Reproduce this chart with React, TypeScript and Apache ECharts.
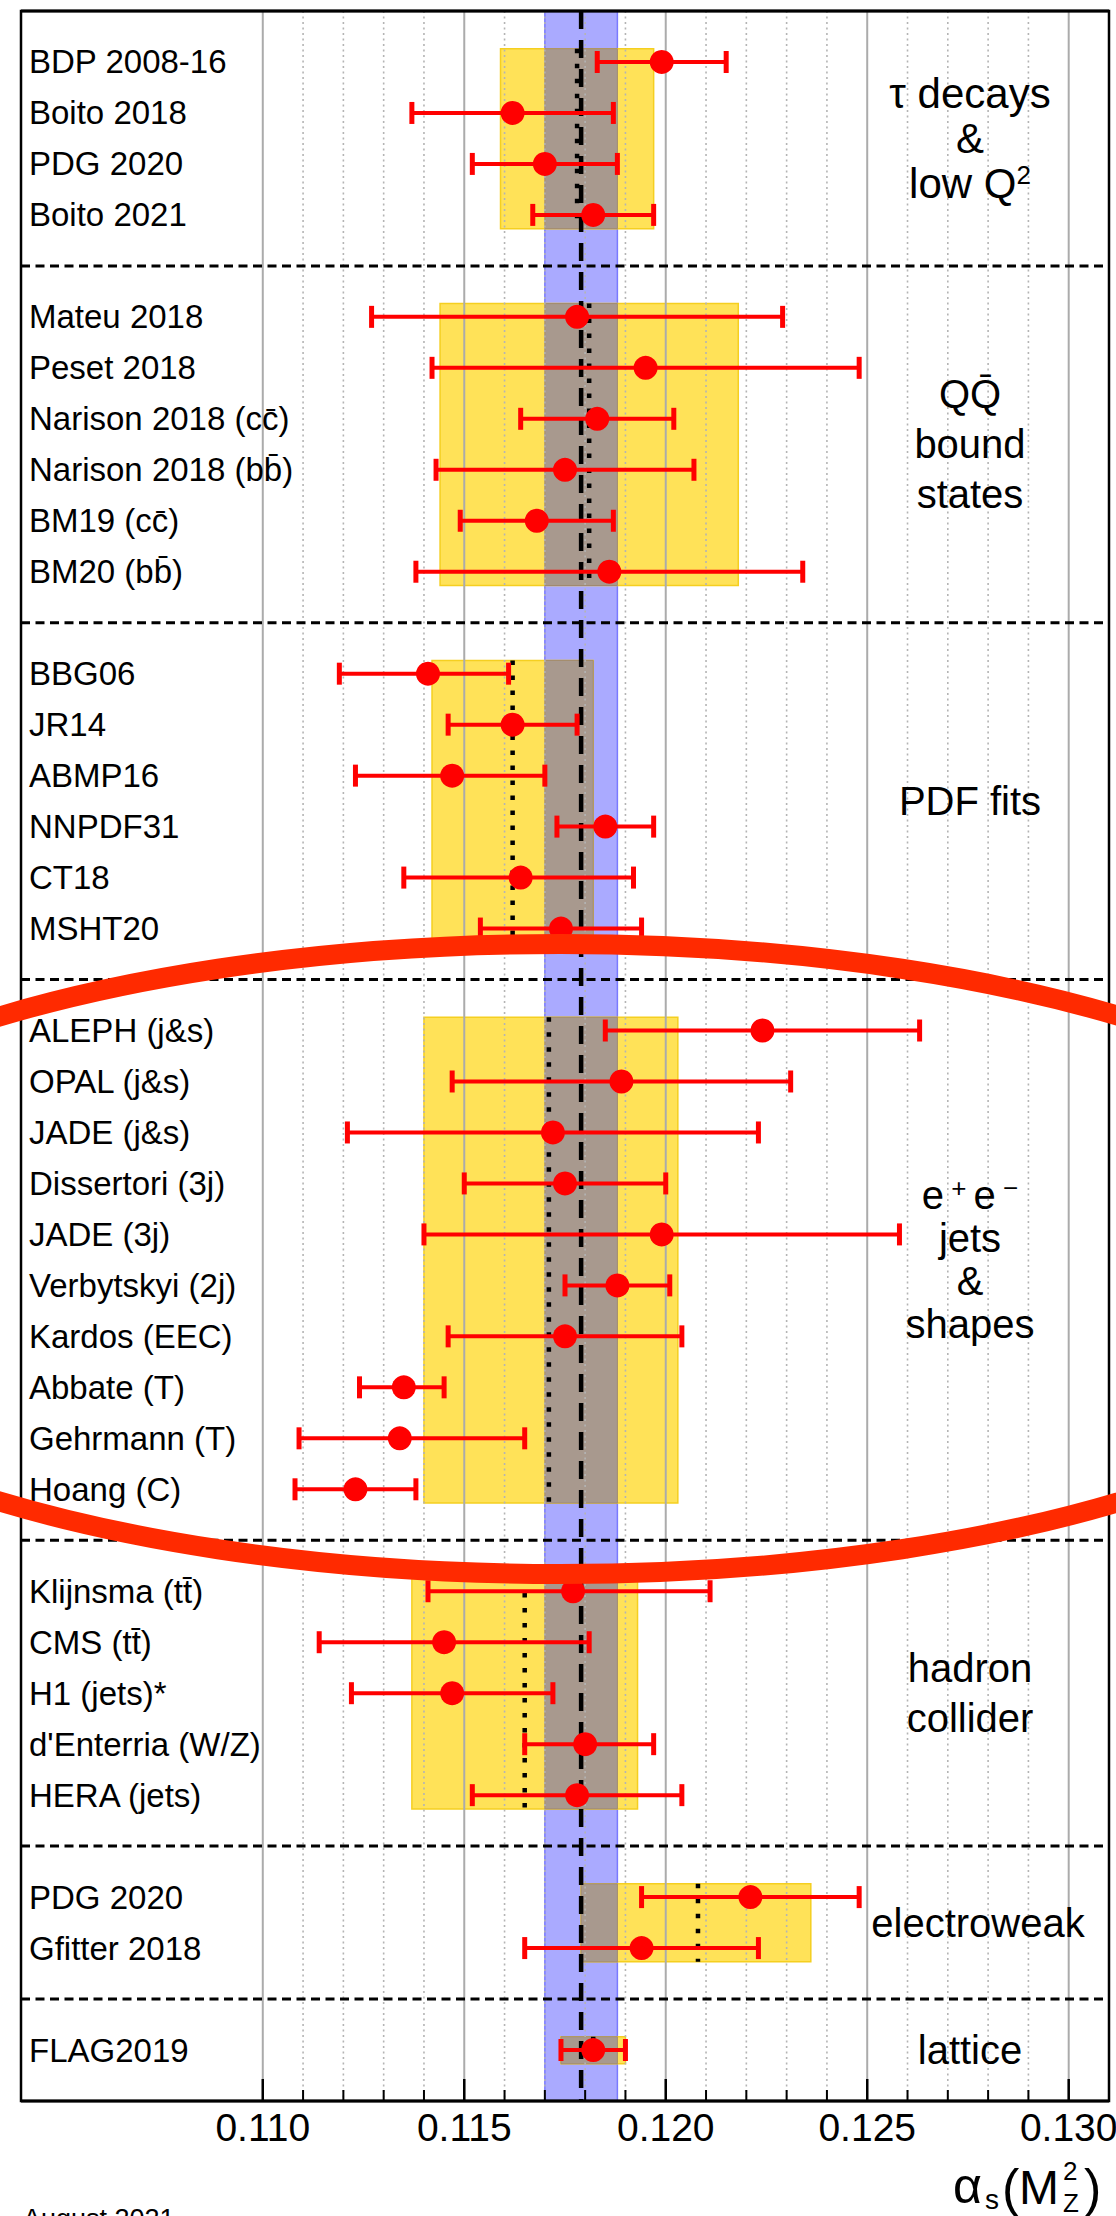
import React, { useEffect, useRef } from "react";
import * as echarts from "echarts";

// ---------------- data ----------------
const measurementLabels = [
  "BDP 2008-16", "Boito 2018", "PDG 2020", "Boito 2021",
  "Mateu 2018", "Peset 2018", "Narison 2018 (cc\u0304)", "Narison 2018 (bb\u0304)", "BM19 (cc\u0304)", "BM20 (bb\u0304)",
  "BBG06", "JR14", "ABMP16", "NNPDF31", "CT18", "MSHT20",
  "ALEPH (j&s)", "OPAL (j&s)", "JADE (j&s)", "Dissertori (3j)", "JADE (3j)", "Verbytskyi (2j)", "Kardos (EEC)", "Abbate (T)", "Gehrmann (T)", "Hoang (C)",
  "Klijnsma (tt\u0304)", "CMS (tt\u0304)", "H1 (jets)*", "d'Enterria (W/Z)", "HERA (jets)",
  "PDG 2020", "Gfitter 2018",
  "FLAG2019",
];
const centralValues = [
  0.1199, 0.1162, 0.1170, 0.1182,
  0.1178, 0.1195, 0.1183, 0.1175, 0.1168, 0.1186,
  0.1141, 0.1162, 0.1147, 0.1185, 0.1164, 0.1174,
  0.1224, 0.1189, 0.1172, 0.1175, 0.1199, 0.1188, 0.1175, 0.1135, 0.1134, 0.1123,
  0.1177, 0.1145, 0.1147, 0.1180, 0.1178,
  0.1221, 0.1194,
  0.1182,
];
const lowerValues = [
  0.1183, 0.1137, 0.1152, 0.1167,
  0.1127, 0.1142, 0.1164, 0.1143, 0.1149, 0.1138,
  0.1119, 0.1146, 0.1123, 0.1173, 0.1135, 0.1154,
  0.1185, 0.1147, 0.1121, 0.1150, 0.1140, 0.1175, 0.1146, 0.1124, 0.1109, 0.1108,
  0.1141, 0.1114, 0.1122, 0.1165, 0.1152,
  0.1194, 0.1165,
  0.1174,
];
const upperValues = [
  0.1215, 0.1187, 0.1188, 0.1197,
  0.1229, 0.1248, 0.1202, 0.1207, 0.1187, 0.1234,
  0.1161, 0.1178, 0.1170, 0.1197, 0.1192, 0.1194,
  0.1263, 0.1231, 0.1223, 0.1200, 0.1258, 0.1201, 0.1204, 0.1145, 0.1165, 0.1138,
  0.1211, 0.1181, 0.1172, 0.1197, 0.1204,
  0.1248, 0.1223,
  0.1190,
];
const groupSizes = [4, 6, 6, 10, 5, 2, 1];
const groupTitles = [
  ["\u03c4 decays", "&", "low Q{sup|2}"],
  ["QQ\u0304", "bound", "states"],
  ["PDF fits"],
  ["e{sup| + }e{sup| \u2212}", "jets", "&", "shapes"],
  ["hadron", "collider"],
  ["electroweak"],
  ["lattice"],
];
const groupAverages = [0.1178, 0.1181, 0.1162, 0.1171, 0.1165, 0.1208, 0.1182];
const groupLows = [0.1159, 0.1144, 0.1142, 0.1140, 0.1137, 0.1179, 0.1174];
const groupHighs = [0.1197, 0.1218, 0.1182, 0.1203, 0.1193, 0.1236, 0.1190];
const worldAverage = 0.1179;
const worldLow = 0.1170;
const worldHigh = 0.1188;
const majorTicks = [0.110, 0.115, 0.120, 0.125, 0.130];
const tickLabels = ["0.110", "0.115", "0.120", "0.125", "0.130"];
const xMin = 0.104;
const xMax = 0.131;

// ---------------- layout (derived) ----------------
const FONT = '"Liberation Sans", Arial, Helvetica, sans-serif';
const rowOf: number[] = [];
const groupFirst: number[] = [];
const groupLast: number[] = [];
const separators: number[] = [];
{
  let slot = 1;
  groupSizes.forEach((n, g) => {
    groupFirst.push(slot);
    for (let i = 0; i < n; i++) rowOf.push(slot++);
    groupLast.push(slot - 1);
    if (g < groupSizes.length - 1) {
      separators.push(slot);
      slot++;
    }
  });
}
const yMax = rowOf[rowOf.length - 1] + 1;
const gridTickValues: number[] = [];
for (let k = 110; k <= 130; k++) gridTickValues.push(k / 1000);
const isMajor = (v: number) => majorTicks.some((m) => Math.abs(m - v) < 1e-7);
const titleLineGaps = [45, 50, 0, 43, 50, 0, 0];
const titleShift = [0, 0, 0, 0, 0, 8, 0];
const titleFontSizes = [42, 40, 40, 40, 40, 40, 40];
const BOX_TOP = 0.26;
const BOX_BOTTOM = 0.27;

function buildOption(): any {
  const red = "#ff0000";
  return {
    animation: false,
    backgroundColor: "#ffffff",
    grid: { left: 21, right: 7, top: 11, bottom: 115, containLabel: false, outerBoundsMode: "none" },
    xAxis: {
      type: "value",
      min: xMin,
      max: xMax,
      interval: 0.001,
      axisLine: { show: false },
      axisTick: { show: false },
      splitLine: { show: false },
      axisLabel: {
        show: true,
        margin: 7,
        fontSize: 39,
        color: "#000",
        fontFamily: FONT,
        showMinLabel: true,
        showMaxLabel: true,
        formatter: (v: number) => {
          const i = majorTicks.findIndex((m) => Math.abs(m - v) < 1e-7);
          return i >= 0 ? tickLabels[i] : "";
        },
      },
    },
    yAxis: { type: "value", min: 0, max: yMax, inverse: true, show: false },
    series: [
      // world-average band
      {
        type: "custom",
        z: 1,
        silent: true,
        data: [[worldLow, worldHigh]],
        encode: { x: 0 },
        renderItem: (params: any, api: any) => {
          const a = api.coord([api.value(0), 0]);
          const b = api.coord([api.value(1), yMax]);
          return {
            type: "rect",
            shape: { x: a[0], y: a[1], width: b[0] - a[0], height: b[1] - a[1] },
            style: { fill: "#aaaaff", stroke: "#7a7aff", lineWidth: 1.5 },
          };
        },
      },
      // group boxes
      {
        type: "custom",
        z: 2,
        silent: true,
        data: groupLows.map((lo, g) => [lo, groupHighs[g], groupFirst[g], groupLast[g]]),
        encode: { x: 0, y: 2 },
        renderItem: (params: any, api: any) => {
          const lo = api.value(0), hi = api.value(1), f = api.value(2), l = api.value(3);
          const a = api.coord([lo, f - BOX_TOP]);
          const b = api.coord([hi, l + BOX_BOTTOM]);
          const children: any[] = [
            {
              type: "rect",
              shape: { x: a[0], y: a[1], width: b[0] - a[0], height: b[1] - a[1] },
              style: { fill: "#ffe258", stroke: "#f5cf20", lineWidth: 1.5 },
            },
          ];
          const ilo = Math.max(lo, worldLow), ihi = Math.min(hi, worldHigh);
          if (ihi > ilo) {
            const c = api.coord([ilo, f - BOX_TOP]);
            const d = api.coord([ihi, l + BOX_BOTTOM]);
            children.push({
              type: "rect",
              shape: { x: c[0], y: c[1], width: d[0] - c[0], height: d[1] - c[1] },
              style: { fill: "#a8998e", stroke: "#a08a70", lineWidth: 1 },
            });
          }
          return { type: "group", children };
        },
      },
      // vertical grid lines
      {
        type: "custom",
        z: 3,
        silent: true,
        data: gridTickValues.map((v) => [v, 0]),
        encode: { x: 0, y: 1 },
        renderItem: (params: any, api: any) => {
          const v = api.value(0);
          const a = api.coord([v, 0]);
          const b = api.coord([v, yMax]);
          const major = isMajor(v);
          return {
            type: "line",
            shape: { x1: a[0], y1: a[1], x2: b[0], y2: b[1] },
            style: major
              ? { stroke: "#ababab", lineWidth: 2 }
              : { stroke: "#b4b4b4", lineWidth: 1.6, lineDash: [2, 3.5] },
          };
        },
      },
      // separators
      {
        type: "custom",
        z: 4,
        silent: true,
        data: separators.map((s) => [xMin, s]),
        encode: { x: 0, y: 1 },
        renderItem: (params: any, api: any) => {
          const s = api.value(1);
          const a = api.coord([xMin, s]);
          const b = api.coord([xMax, s]);
          return {
            type: "line",
            shape: { x1: a[0], y1: a[1], x2: b[0], y2: b[1] },
            style: { stroke: "#000", lineWidth: 3, lineDash: [9, 5.5] },
          };
        },
      },
      // group averages (dotted)
      {
        type: "custom",
        z: 5,
        silent: true,
        data: groupAverages.map((v, g) => [v, groupFirst[g], groupLast[g]]),
        encode: { x: 0, y: 1 },
        renderItem: (params: any, api: any) => {
          const v = api.value(0);
          const a = api.coord([v, api.value(1) - BOX_TOP]);
          const b = api.coord([v, api.value(2) + BOX_BOTTOM]);
          return {
            type: "line",
            shape: { x1: a[0], y1: a[1], x2: b[0], y2: b[1] },
            style: { stroke: "#000", lineWidth: 4.5, lineDash: [4.5, 10.5] },
          };
        },
      },
      // world average (dashed)
      {
        type: "custom",
        z: 5,
        silent: true,
        data: [[worldAverage, 0]],
        encode: { x: 0, y: 1 },
        renderItem: (params: any, api: any) => {
          const v = api.value(0);
          const a = api.coord([v, 0]);
          const b = api.coord([v, yMax]);
          return {
            type: "line",
            shape: { x1: a[0], y1: a[1], x2: b[0], y2: b[1] },
            style: { stroke: "#000", lineWidth: 4.5, lineDash: [18, 11] },
          };
        },
      },
      // measurements
      {
        type: "custom",
        z: 6,
        silent: true,
        data: centralValues.map((c, i) => [c, lowerValues[i], upperValues[i], rowOf[i]]),
        encode: { x: 0, y: 3 },
        renderItem: (params: any, api: any) => {
          const c = api.value(0), lo = api.value(1), hi = api.value(2), row = api.value(3);
          const pc = api.coord([c, row]);
          const pl = api.coord([lo, row]);
          const ph = api.coord([hi, row]);
          const lx = api.coord([xMin, row])[0] + 8;
          return {
            type: "group",
            children: [
              { type: "line", shape: { x1: pl[0], y1: pl[1], x2: ph[0], y2: ph[1] }, style: { stroke: red, lineWidth: 4 } },
              { type: "line", shape: { x1: pl[0], y1: pl[1] - 11, x2: pl[0], y2: pl[1] + 11 }, style: { stroke: red, lineWidth: 5 } },
              { type: "line", shape: { x1: ph[0], y1: ph[1] - 11, x2: ph[0], y2: ph[1] + 11 }, style: { stroke: red, lineWidth: 5 } },
              { type: "circle", shape: { cx: pc[0], cy: pc[1], r: 12 }, style: { fill: red } },
              {
                type: "text",
                style: {
                  text: measurementLabels[params.dataIndex],
                  x: lx,
                  y: pc[1],
                  fill: "#000",
                  fontSize: 33,
                  fontFamily: FONT,
                  align: "left",
                  verticalAlign: "middle",
                },
              },
            ],
          };
        },
      },
      // group titles
      {
        type: "custom",
        z: 6,
        silent: true,
        data: groupTitles.map((t, g) => [xMax, (groupFirst[g] + groupLast[g]) / 2]),
        encode: { x: 0, y: 1 },
        renderItem: (params: any, api: any) => {
          const g = params.dataIndex;
          const lines = groupTitles[g];
          const gap = titleLineGaps[g];
          const mid = api.coord([xMax, api.value(1)]);
          const x = mid[0] - 139 + titleShift[g];
          return {
            type: "group",
            children: lines.map((t, i) => ({
              type: "text",
              style: {
                text: t,
                x,
                y: mid[1] + (i - (lines.length - 1) / 2) * gap,
                fill: "#000",
                fontSize: titleFontSizes[g],
                fontFamily: FONT,
                align: "center",
                verticalAlign: "middle",
                rich: { sup: { fontSize: 26, fontFamily: FONT, fill: "#000", verticalAlign: "top" } },
              },
            })),
          };
        },
      },
      // axis ticks
      {
        type: "custom",
        z: 7,
        silent: true,
        data: gridTickValues.map((v) => [v, yMax]),
        encode: { x: 0, y: 1 },
        renderItem: (params: any, api: any) => {
          const v = api.value(0);
          const a = api.coord([v, yMax]);
          const len = isMajor(v) ? 22 : 11;
          return {
            type: "line",
            shape: { x1: a[0], y1: a[1], x2: a[0], y2: a[1] - len },
            style: { stroke: "#000", lineWidth: isMajor(v) ? 2.5 : 2 },
          };
        },
      },
      // frame
      {
        type: "custom",
        z: 8,
        silent: true,
        data: [[xMin, 0]],
        encode: { x: 0, y: 1 },
        renderItem: (params: any, api: any) => {
          const a = api.coord([xMin, 0]);
          const b = api.coord([xMax, yMax]);
          return {
            type: "group",
            children: [
              { type: "rect", shape: { x: a[0], y: a[1], width: b[0] - a[0], height: b[1] - a[1] }, style: { fill: "none", stroke: "#000", lineWidth: 2.5 } },
              { type: "line", shape: { x1: a[0], y1: b[1], x2: b[0], y2: b[1] }, style: { stroke: "#000", lineWidth: 3 } },
              { type: "line", shape: { x1: a[0], y1: a[1], x2: b[0], y2: a[1] }, style: { stroke: "#000", lineWidth: 3 } },
            ],
          };
        },
      },
    ],
    graphic: {
      elements: [
        {
          type: "ellipse",
          z: 100,
          silent: true,
          shape: { cx: 560, cy: 1259, rx: 878, ry: 315 },
          style: { fill: "none", stroke: "#ff2a00", lineWidth: 20 },
        },
        { type: "text", z: 100, x: 953, y: 2186, style: { text: "\u03b1", fontSize: 50, fontFamily: FONT, fill: "#000", align: "left", verticalAlign: "middle" } },
        { type: "text", z: 100, x: 985, y: 2199, style: { text: "s", fontSize: 28, fontFamily: FONT, fill: "#000", align: "left", verticalAlign: "middle" } },
        { type: "text", z: 100, x: 1002, y: 2188, style: { text: "(", fontSize: 52, fontFamily: FONT, fill: "#000", align: "left", verticalAlign: "middle" } },
        { type: "text", z: 100, x: 1019, y: 2187, style: { text: "M", fontSize: 48, fontFamily: FONT, fill: "#000", align: "left", verticalAlign: "middle" } },
        { type: "text", z: 100, x: 1063, y: 2171, style: { text: "2", fontSize: 26, fontFamily: FONT, fill: "#000", align: "left", verticalAlign: "middle" } },
        { type: "text", z: 100, x: 1063, y: 2203, style: { text: "Z", fontSize: 26, fontFamily: FONT, fill: "#000", align: "left", verticalAlign: "middle" } },
        { type: "text", z: 100, x: 1084, y: 2188, style: { text: ")", fontSize: 52, fontFamily: FONT, fill: "#000", align: "left", verticalAlign: "middle" } },
        { type: "text", z: 100, x: 23, y: 2205, style: { text: "August 2021", fontSize: 27, fontFamily: FONT, fill: "#000", align: "left", verticalAlign: "top" } },
      ],
    },
  };
}

export default function App() {
  const ref = useRef<HTMLDivElement>(null);
  useEffect(() => {
    document.body.style.margin = "0";
    document.body.style.overflow = "hidden";
    const chart = echarts.init(ref.current as HTMLDivElement, null, { renderer: "svg" });
    chart.setOption(buildOption());
    return () => chart.dispose();
  }, []);
  return <div ref={ref} style={{ width: 1116, height: 2216 }} />;
}
